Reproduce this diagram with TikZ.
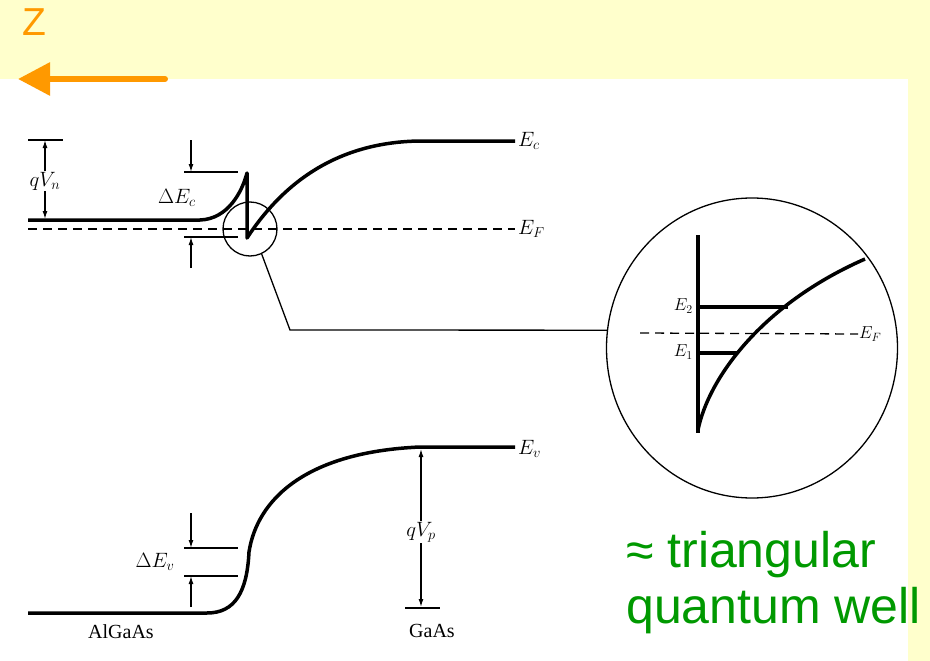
\documentclass[tikz,border=0pt]{standalone}
\usepackage{fontspec}
\setmainfont{Liberation Serif}
\newfontfamily\slidefont{Liberation Sans}
\usetikzlibrary{positioning, arrows.meta, shapes.geometric, calc}
\definecolor{slideyellow}{HTML}{FFFFCC}
\definecolor{slideorange}{HTML}{FF9900}
\definecolor{slidegreen}{HTML}{009900}

\begin{document}
\begin{tikzpicture}[
    x=1pt, y=-1pt,
    band/.style={line width=3.5pt, line join=round},
    level/.style={line width=1.3pt},
    fermi/.style={line width=1.6pt, dash pattern=on 9pt off 6pt},
    marker/.style={line width=1.3pt, -{Latex[length=8pt, width=5pt]}},
    lbl/.style={font=\fontsize{20}{23}\selectfont, inner sep=1pt},
    insetlbl/.style={font=\fontsize{17}{20}\selectfont, inner sep=1pt},
    slidetext/.style={font=\slidefont\fontsize{50}{56}\selectfont, text=slidegreen, inner sep=0pt, anchor=base west}
]
    \useasboundingbox (0,0) rectangle (930,661);
    \fill[slideyellow] (0,0) rectangle (930,661);
    \fill[white] (0,79) rectangle (908,661);

    \node[font=\slidefont\fontsize{39}{44}\selectfont, text=slideorange, inner sep=0pt, anchor=base west] (zlabel) at (22,36) {Z};
    \coordinate (zstart) at (165,79);
    \coordinate (zend) at (18,79);
    \draw[slideorange, line width=6pt, line cap=round, -{Triangle[length=32pt, width=32pt]}] (zstart) -- (zend);

    \node[lbl, anchor=west, inner sep=3pt] (ec) at (515,141) {$E_c$};
    \node[lbl, anchor=west, inner sep=3pt] (ef) at (515,229) {$E_F$};
    \node[lbl, anchor=west, inner sep=3pt] (ev) at (515,449) {$E_v$};

    \draw[band] (28,220) -- (200,220) .. controls (228,219) and (242,192) .. (247,173) -- (247,238) .. controls (285,180) and (340,142) .. (420,141) -- (ec.west);
    \draw[fermi] (28,229) -- (ef.west);
    \draw[band] (28,613) -- (207,613) .. controls (235,613) and (247,592) .. (249,552) .. controls (257,500) and (305,452) .. (420,447) -- (515,447);

    \coordinate (vnbar) at (45,140);
    \coordinate (vnfloor) at (45,219);
    \draw[level] (28,140) -- (63,140);
    \node[lbl] (qvn) at (45,181) {$qV_n$};
    \draw[marker] (qvn.north) -- (vnbar);
    \draw[marker] (qvn.south) -- (vnfloor);

    \draw[level] (184,172) -- (238,172);
    \draw[level] (184,237) -- (238,237);
    \node[lbl] (dec) at (177,198) {$\Delta E_c$};
    \draw[marker] (191,140) -- (191,172);
    \draw[marker] (191,268) -- (191,237);

    \node[circle, draw, level, minimum size=54pt, inner sep=0pt] (spot) at (250,229) {};
    \node[ellipse, draw, level, minimum width=291pt, minimum height=300pt, inner sep=0pt] (inset) at (752,348) {};
    \coordinate (bend) at (290,330);
    \draw[level] (spot.-65) -- (bend) -- (inset.173);

    \draw[band] (698,235) -- (698,433);
    \draw[band] (698,430) .. controls (708,380) and (760,305) .. (865,259);
    \draw[band] (698,307) -- (788,307);
    \draw[band] (698,353) -- (738,353);
    \node[insetlbl, anchor=east] (e2) at (694,306) {$E_2$};
    \node[insetlbl, anchor=east] (e1) at (694,352) {$E_1$};
    \node[insetlbl, anchor=west] (efi) at (858,334) {$E_F$};
    \draw[fermi, line width=1.3pt] (640,333) -- (efi.west);

    \draw[level] (184,548) -- (238,548);
    \draw[level] (184,576) -- (238,576);
    \node[lbl] (dev) at (155,562) {$\Delta E_v$};
    \draw[marker] (191,513) -- (191,548);
    \draw[marker] (191,607) -- (191,576);

    \coordinate (vptop) at (421,449);
    \coordinate (vpfloor) at (421,607);
    \node[lbl] (qvp) at (421,532) {$qV_p$};
    \draw[marker] (qvp.north) -- (vptop);
    \draw[marker] (qvp.south) -- (vpfloor);
    \draw[level] (405,608) -- (440,608);

    \node[lbl] (gaas) at (432,631) {GaAs};
    \node[lbl] (algaas) at (121,632) {AlGaAs};

    \node[slidetext] (tri) at (626,567) {≈ triangular};
    \node[slidetext] (qwell) at (626,623) {quantum well};
\end{tikzpicture}
\end{document}
